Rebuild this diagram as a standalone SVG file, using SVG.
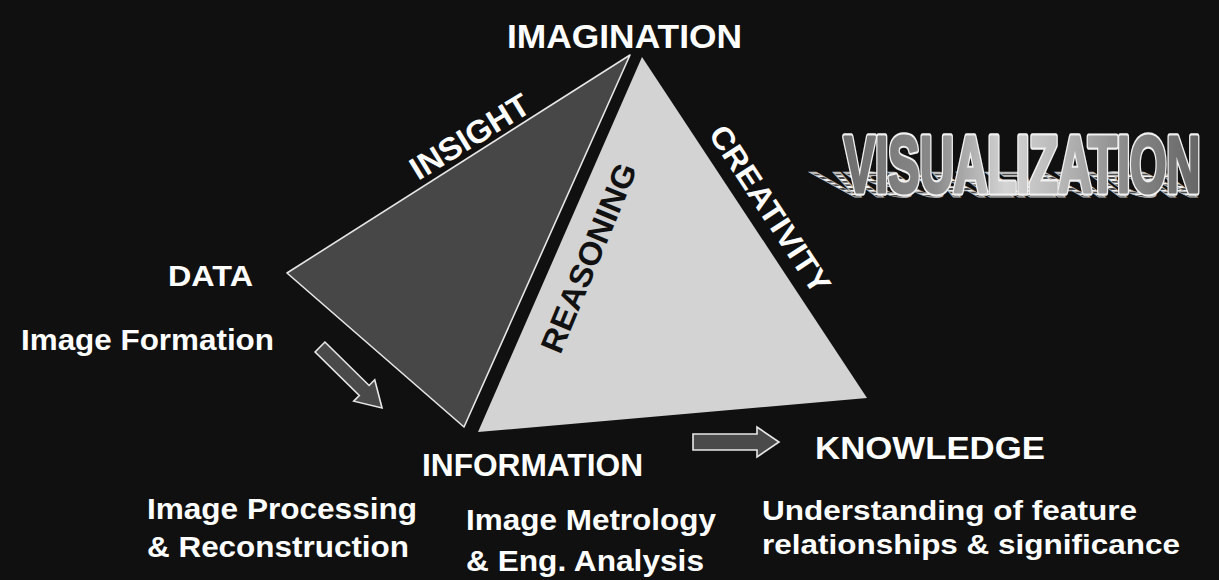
<svg xmlns="http://www.w3.org/2000/svg" width="1219" height="580" viewBox="0 0 1219 580">
<defs>
<style>
text{font-family:"Liberation Sans",Arial,sans-serif;font-weight:bold}
.w{fill:#ffffff}
.d{fill:#111111}
.arrow{fill:#4a4a4a;stroke:#e8e8e8;stroke-width:1.6;stroke-linejoin:miter}
.vis{font-size:80px}
</style>
<linearGradient id="vg" gradientUnits="userSpaceOnUse" x1="0" y1="0" x2="613" y2="0">
<stop offset="0" stop-color="#6e6e6e"/>
<stop offset="0.25" stop-color="#8a8a8a"/>
<stop offset="0.45" stop-color="#d4d4d4"/>
<stop offset="0.6" stop-color="#b8b8b8"/>
<stop offset="0.8" stop-color="#868686"/>
<stop offset="1" stop-color="#646464"/>
</linearGradient>
<pattern id="stripes" patternUnits="userSpaceOnUse" width="20" height="8">
<rect width="20" height="8" fill="#4a4a4a"/>
<rect y="0" width="20" height="4" fill="#f2f2f2"/>
</pattern>
</defs>
<rect width="1219" height="580" fill="#101010"/>

<g id="pyramid-dark">
<polygon points="287,273 630,55 464,427" fill="#474747" stroke="#e6e6e6" stroke-width="1.6" stroke-linejoin="round"/>
</g>
<g id="pyramid-light">
<polygon points="642,57 867,398 478,432" fill="#d3d3d3"/>
</g>

<g id="connectors">
<path class="arrow" transform="translate(320,347) rotate(44.5)" d="M0,-7 H62 V-15 L87,0 L62,15 V7 H0 Z"/>
<path class="arrow" transform="translate(693,442)" d="M0,-8 H64 V-15 L86,0 L64,15 V8 H0 Z"/>
</g>

<g id="imagination"><text class="w" x="624.5" y="48" font-size="34" text-anchor="middle" textLength="235" lengthAdjust="spacingAndGlyphs">IMAGINATION</text></g>
<g id="data"><text class="w" x="168" y="286" font-size="29" textLength="85" lengthAdjust="spacingAndGlyphs">DATA</text></g>
<g id="image-formation"><text class="w" x="21" y="350" font-size="29" textLength="253" lengthAdjust="spacingAndGlyphs">Image Formation</text></g>
<g id="information"><text class="w" x="422" y="476" font-size="31" textLength="221" lengthAdjust="spacingAndGlyphs">INFORMATION</text></g>
<g id="knowledge"><text class="w" x="815" y="459" font-size="31" textLength="230" lengthAdjust="spacingAndGlyphs">KNOWLEDGE</text></g>

<g id="insight"><text class="w" transform="translate(475.5,146) rotate(-31.5)" x="0" y="0" font-size="32" text-anchor="middle" textLength="134" lengthAdjust="spacingAndGlyphs">INSIGHT</text></g>
<g id="reasoning"><text class="d" transform="translate(599,262) rotate(-67.5)" x="0" y="0" font-size="32" text-anchor="middle" textLength="202" lengthAdjust="spacingAndGlyphs">REASONING</text></g>
<g id="creativity"><text class="w" transform="translate(761,215) rotate(56.7)" x="0" y="0" font-size="31" text-anchor="middle" textLength="194" lengthAdjust="spacingAndGlyphs">CREATIVITY</text></g>

<g id="visualization">
<text class="vis" transform="matrix(0.59,0,0.6,0.45,842,197)" x="0" y="0" fill="url(#stripes)" stroke="#bbbbbb" stroke-width="1.5" vector-effect="non-scaling-stroke">VISUALIZATION</text>
<g transform="translate(844,192) scale(0.587,1)">
<text class="vis" x="0" y="0" fill="#f0f0f0" stroke="#f0f0f0" stroke-width="6" stroke-linejoin="round" vector-effect="non-scaling-stroke">VISUALIZATION</text>
<text class="vis" x="0" y="0" fill="url(#vg)" stroke="url(#vg)" stroke-width="2.5" stroke-linejoin="round" vector-effect="non-scaling-stroke">VISUALIZATION</text>
</g>
</g>

<g id="processing">
<text class="w" x="147" y="519" font-size="29" textLength="270" lengthAdjust="spacingAndGlyphs">Image Processing</text>
<text class="w" x="147" y="557" font-size="29" textLength="262" lengthAdjust="spacingAndGlyphs">&amp; Reconstruction</text>
</g>
<g id="metrology">
<text class="w" x="466" y="530" font-size="29" textLength="250" lengthAdjust="spacingAndGlyphs">Image Metrology</text>
<text class="w" x="466" y="571" font-size="29" textLength="238" lengthAdjust="spacingAndGlyphs">&amp; Eng. Analysis</text>
</g>
<g id="understanding">
<text class="w" x="762" y="520" font-size="28" textLength="375" lengthAdjust="spacingAndGlyphs">Understanding of feature</text>
<text class="w" x="762" y="554" font-size="28" textLength="418" lengthAdjust="spacingAndGlyphs">relationships &amp; significance</text>
</g>
</svg>
